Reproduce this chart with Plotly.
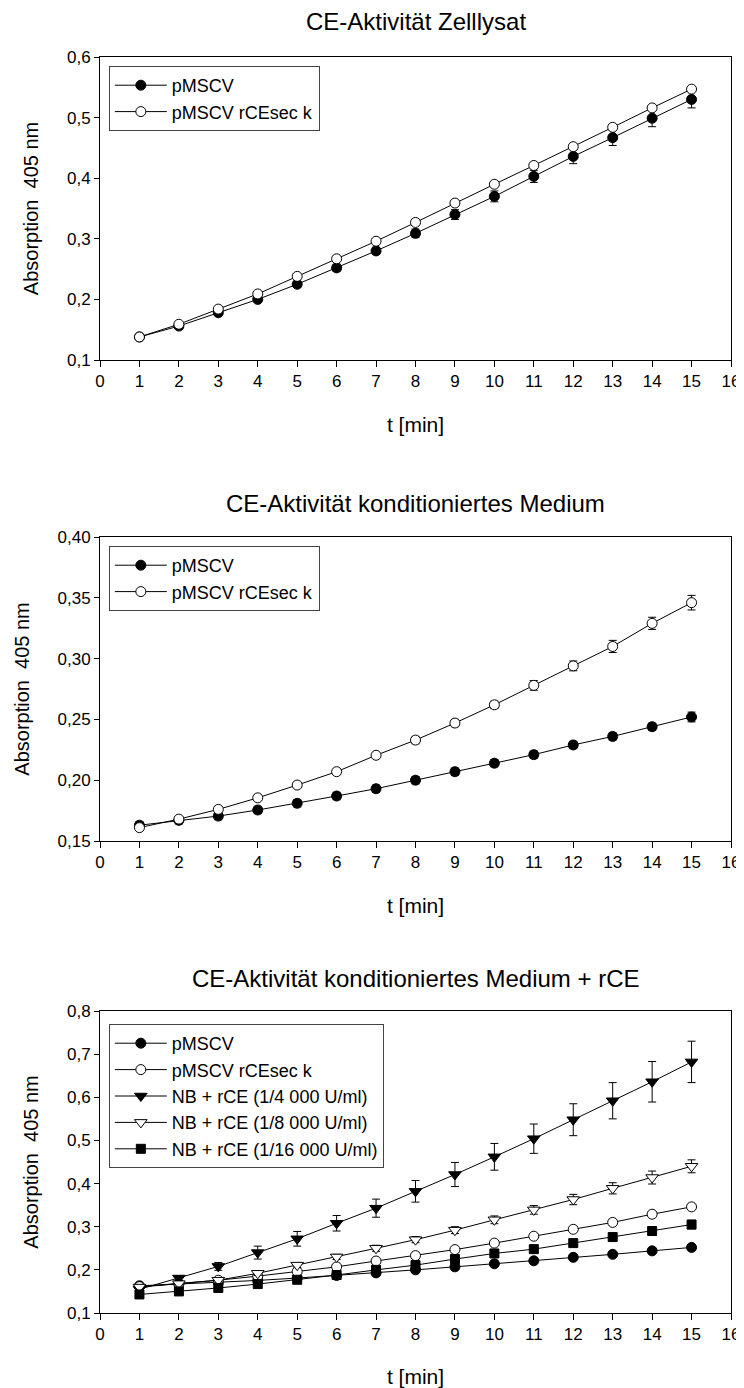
import plotly.graph_objects as go

t = list(range(1, 16))

# Panel 1: CE-Aktivität Zelllysat
zl_pmscv = [0.138, 0.156, 0.178, 0.200, 0.225, 0.252, 0.280, 0.309, 0.340, 0.370, 0.403, 0.436, 0.467, 0.499, 0.530]
zl_pmscv_err = [0.002, 0.002, 0.003, 0.004, 0.005, 0.006, 0.006, 0.007, 0.008, 0.009, 0.010, 0.012, 0.013, 0.014, 0.014]
zl_rce = [0.138, 0.159, 0.184, 0.209, 0.238, 0.267, 0.296, 0.327, 0.359, 0.390, 0.421, 0.452, 0.484, 0.516, 0.547]
zl_rce_err = [0.001, 0.001, 0.002, 0.002, 0.002, 0.002, 0.002, 0.003, 0.003, 0.003, 0.003, 0.003, 0.004, 0.004, 0.004]

# Panel 2: CE-Aktivität konditioniertes Medium
km_pmscv = [0.163, 0.167, 0.1705, 0.1755, 0.181, 0.187, 0.193, 0.200, 0.207, 0.214, 0.221, 0.229, 0.236, 0.244, 0.252]
km_pmscv_err = [0.003, 0.003, 0.003, 0.003, 0.003, 0.003, 0.003, 0.003, 0.003, 0.003, 0.003, 0.003, 0.003, 0.003, 0.004]
km_rce = [0.161, 0.168, 0.176, 0.1855, 0.196, 0.207, 0.2205, 0.233, 0.247, 0.262, 0.278, 0.294, 0.310, 0.329, 0.346]
km_rce_err = [0.002, 0.002, 0.002, 0.002, 0.002, 0.002, 0.002, 0.003, 0.003, 0.003, 0.004, 0.004, 0.005, 0.005, 0.006]

# Panel 3: CE-Aktivität konditioniertes Medium + rCE
rc_pmscv = [0.163, 0.167, 0.1705, 0.1755, 0.181, 0.187, 0.193, 0.200, 0.207, 0.214, 0.221, 0.229, 0.236, 0.244, 0.252]
rc_pmscv_err = [0.003, 0.003, 0.003, 0.003, 0.003, 0.003, 0.003, 0.003, 0.003, 0.003, 0.003, 0.003, 0.003, 0.003, 0.004]
rc_rce = [0.161, 0.168, 0.176, 0.1855, 0.196, 0.207, 0.2205, 0.233, 0.247, 0.262, 0.278, 0.294, 0.310, 0.329, 0.346]
rc_rce_err = [0.002, 0.002, 0.002, 0.002, 0.002, 0.002, 0.002, 0.003, 0.003, 0.003, 0.004, 0.004, 0.005, 0.005, 0.006]
nb4 = [0.155, 0.181, 0.208, 0.240, 0.272, 0.308, 0.343, 0.382, 0.421, 0.462, 0.504, 0.548, 0.592, 0.636, 0.682]
nb4_err = [0.004, 0.006, 0.009, 0.015, 0.017, 0.018, 0.021, 0.025, 0.028, 0.031, 0.034, 0.037, 0.042, 0.047, 0.048]
nb8 = [0.160, 0.168, 0.176, 0.192, 0.211, 0.230, 0.250, 0.270, 0.292, 0.316, 0.339, 0.363, 0.389, 0.414, 0.440]
nb8_err = [0.003, 0.003, 0.004, 0.005, 0.005, 0.006, 0.007, 0.007, 0.008, 0.009, 0.010, 0.012, 0.013, 0.015, 0.015]
nb16 = [0.143, 0.150, 0.158, 0.167, 0.177, 0.188, 0.200, 0.211, 0.225, 0.238, 0.248, 0.262, 0.276, 0.290, 0.305]
nb16_err = [0.003, 0.003, 0.003, 0.004, 0.004, 0.004, 0.005, 0.005, 0.006, 0.006, 0.007, 0.007, 0.008, 0.009, 0.010]

titles = ["CE-Aktivität Zelllysat", "CE-Aktivität konditioniertes Medium",
          "CE-Aktivität konditioniertes Medium + rCE"]
labels = ["pMSCV", "pMSCV rCEsec k", "NB + rCE (1/4 000 U/ml)",
          "NB + rCE (1/8 000 U/ml)", "NB + rCE (1/16 000 U/ml)"]

# page has an 8 px body margin, so the figure is 8 px smaller on each axis
OFF = 8
W, H = 744 - OFF, 1388 - OFF
FONT = "Liberation Sans, Arial, sans-serif"

# page-pixel positions (top, bottom) of each plot area
panels = [(57, 360), (537, 841), (1011, 1313)]
title_y = [21, 503, 978]
legend_top = [66, 546, 1024]
yranges = [[0.1, 0.6], [0.15, 0.40], [0.1, 0.8]]
ydticks = [0.1, 0.05, 0.1]
yfmts = [".1f", ".2f", ".1f"]

fig = go.Figure()


def add(series, err, name, symbol, fill, idx, size=10):
    sfx = "" if idx == 1 else str(idx)
    fig.add_trace(go.Scatter(
        x=t, y=series, name=name, mode="lines+markers",
        line=dict(color="black", width=1),
        marker=dict(symbol=symbol, size=size, color=fill,
                    line=dict(color="black", width=1)),
        error_y=dict(type="data", array=err, color="black", thickness=1, width=4),
        xaxis="x" + sfx, yaxis="y" + sfx,
        legend="legend" + sfx,
    ))


add(zl_pmscv, zl_pmscv_err, labels[0], "circle", "black", 1)
add(zl_rce, zl_rce_err, labels[1], "circle", "white", 1)

add(km_pmscv, km_pmscv_err, labels[0], "circle", "black", 2)
add(km_rce, km_rce_err, labels[1], "circle", "white", 2)

add(rc_pmscv, rc_pmscv_err, labels[0], "circle", "black", 3)
add(rc_rce, rc_rce_err, labels[1], "circle", "white", 3)
add(nb4, nb4_err, labels[2], "triangle-down", "black", 3, size=11)
add(nb8, nb8_err, labels[3], "triangle-down", "white", 3, size=11)
add(nb16, nb16_err, labels[4], "square", "black", 3, size=9)

layout = dict(
    width=W, height=H,
    margin=dict(l=100 - OFF, r=13, t=0, b=0),
    paper_bgcolor="white", plot_bgcolor="white",
    font=dict(family=FONT, size=17, color="black"),
    separators=",.",
    annotations=[],
)

for i in range(3):
    sfx = "" if i == 0 else str(i + 1)
    top, bot = panels[i]
    top -= OFF
    bot -= OFF
    xa = dict(
        domain=[0, 1], range=[0, 16], dtick=1, tick0=0,
        anchor="y" + sfx, showline=True, mirror=True, linecolor="black",
        linewidth=1, ticks="outside", ticklen=6, tickcolor="black",
        showgrid=False, zeroline=False, automargin=False,
        tickfont=dict(size=17),
        title=dict(text="t [min]", font=dict(size=21), standoff=26),
    )
    ya = dict(
        domain=[1 - bot / H, 1 - top / H], range=yranges[i], dtick=ydticks[i],
        tick0=0, tickformat=yfmts[i],
        anchor="x" + sfx, showline=True, mirror=True, linecolor="black",
        linewidth=1, ticks="outside", ticklen=5, tickcolor="black",
        showgrid=False, zeroline=False, automargin=False,
        tickfont=dict(size=17),
        title=dict(text="Absorption  405 nm", font=dict(size=20), standoff=22),
    )
    layout["xaxis" + sfx] = xa
    layout["yaxis" + sfx] = ya
    layout["legend" + sfx] = dict(
        x=0.014, y=1 - (legend_top[i] - OFF) / H, xanchor="left", yanchor="top",
        bgcolor="white", bordercolor="#444", borderwidth=1,
        font=dict(size=18), itemwidth=52, tracegroupgap=0,
    )
    layout["annotations"].append(dict(
        text=titles[i], x=0.5, xref="paper", y=1 - (title_y[i] - OFF) / H, yref="paper",
        xanchor="center", yanchor="middle", showarrow=False,
        font=dict(size=24),
    ))

fig.update_layout(**layout)
fig.write_html("out.html")
